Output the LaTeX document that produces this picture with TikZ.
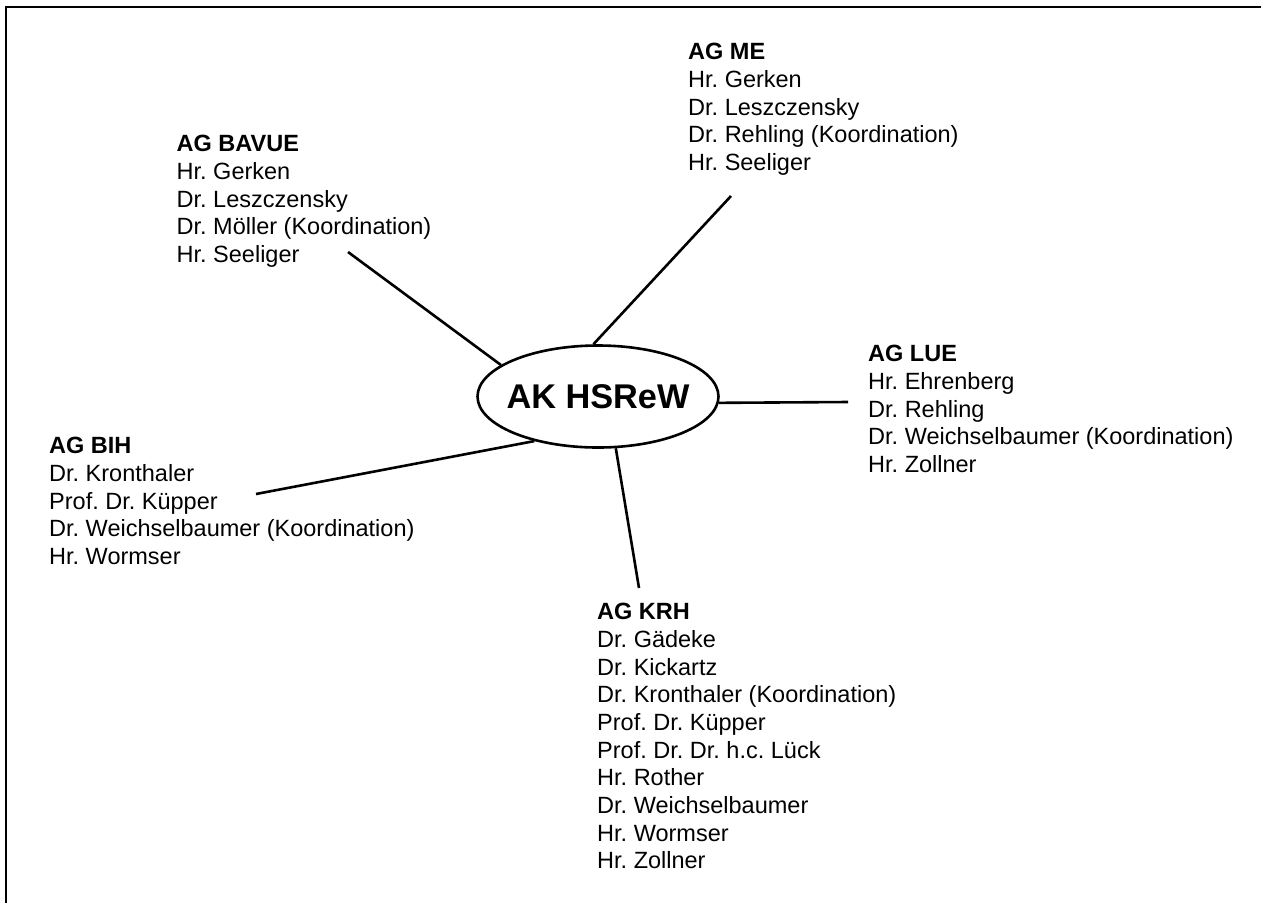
\documentclass[tikz,border=0pt]{standalone}
\usepackage{fontspec}
\setmainfont{Liberation Sans}
\usetikzlibrary{shapes.geometric}
\begin{document}
\frenchspacing
\begin{tikzpicture}[x=1pt,y=-1pt,
  group/.style={anchor=north west,inner sep=0pt,align=left,
    font=\fontsize{23.5pt}{27.7pt}\selectfont\frenchspacing},
  link/.style={line width=2.6pt},
  hubnode/.style={ellipse,draw,line width=2.6pt,minimum width=241pt,
    minimum height=102pt,inner sep=0pt,
    font=\fontsize{34.3pt}{40pt}\selectfont\bfseries}]
  \useasboundingbox (0,0) rectangle (1261,903);
  % outer frame (top and left edges)
  \draw[line width=2pt] (6,903) -- (6,6.5) -- (1261,6.5);

  % central working group
  \node[hubnode] (hub) at (598,396.5) {\makebox[0pt]{AK HSReW}};

  % sub groups
  \node[group] (bavue) at (176.5,135) {\textbf{AG BAVUE}\\Hr. Gerken\\Dr. Leszczensky\\Dr. Möller (Koordination)\\Hr. Seeliger};
  \node[group] (me) at (688,43) {\textbf{AG ME}\\Hr. Gerken\\Dr. Leszczensky\\Dr. Rehling (Koordination)\\Hr. Seeliger};
  \node[group] (lue) at (868,345) {\textbf{AG LUE}\\Hr. Ehrenberg\\Dr. Rehling\\Dr. Weichselbaumer (Koordination)\\Hr. Zollner};
  \node[group] (bih) at (49,437) {\textbf{AG BIH}\\Dr. Kronthaler\\Prof. Dr. Küpper\\Dr. Weichselbaumer (Koordination)\\Hr. Wormser};
  \node[group] (krh) at (597,603) {\textbf{AG KRH}\\Dr. Gädeke\\Dr. Kickartz\\Dr. Kronthaler (Koordination)\\Prof. Dr. Küpper\\Prof. Dr. Dr. h.c. Lück\\Hr. Rother\\Dr. Weichselbaumer\\Hr. Wormser\\Hr. Zollner};

  % free ends of the connectors next to each group
  \coordinate (bavueEnd) at (348,252);
  \coordinate (meEnd) at (731,196);
  \coordinate (lueEnd) at (848,402);
  \coordinate (bihEnd) at (256,494);
  \coordinate (krhEnd) at (639,588);

  \draw[link] (bavueEnd) -- (hub.162.8);
  \draw[link] (meEnd) -- (hub.95.4);
  \draw[link] (lueEnd) -- (hub.357.5);
  \draw[link] (bihEnd) -- (hub.215);
  \draw[link] (krhEnd) -- (hub.289);
\end{tikzpicture}
\end{document}
